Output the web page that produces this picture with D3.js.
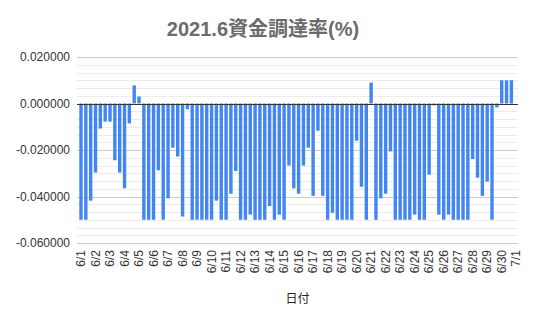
<!DOCTYPE html>
<html>
<head>
<meta charset="utf-8">
<script src="https://cdn.jsdelivr.net/npm/d3@7"></script>
<style>
  body { margin: 0; background: #fff; }
  svg { display: block; font-family: Arial, "Liberation Sans", "Noto Sans CJK JP", sans-serif; }
</style>
</head>
<body>
<div id="chart"></div>
<script>
// 資金調達率, 8時間ごと (1日3回)
const dayLabels = ["6/1","6/2","6/3","6/4","6/5","6/6","6/7","6/8","6/9","6/10",
  "6/11","6/12","6/13","6/14","6/15","6/16","6/17","6/18","6/19","6/20",
  "6/21","6/22","6/23","6/24","6/25","6/26","6/27","6/28","6/29","6/30","7/1"];

const rates = [
  -0.05, -0.05, -0.0418,   -0.0297, -0.0108, -0.0078,   -0.0078, -0.0244, -0.0297,
  -0.0365, -0.0086, 0.0078, 0.003, -0.05, -0.05,        -0.05, -0.0287, -0.05,
  -0.0408, -0.019, -0.0228, -0.0486, -0.0025, -0.05,    -0.05, -0.05, -0.05,
  -0.05, -0.0418, -0.05,   -0.05, -0.0388, -0.029,      -0.05, -0.05, -0.0478,
  -0.05, -0.05, -0.05,     -0.0441, -0.05, -0.0478,     -0.05, -0.0267, -0.0365,
  -0.0388, -0.0267, -0.019, -0.0397, -0.0117, -0.0397,  -0.05, -0.047, -0.05,
  -0.05, -0.05, -0.05,     -0.016, -0.0358, -0.05,      0.009, -0.05, -0.0408,
  -0.0388, -0.0206, -0.05, -0.05, -0.05, -0.05,         -0.0478, -0.05, -0.05,
  -0.0306, -0.0008, -0.0478, -0.05, -0.0478, -0.05,     -0.05, -0.05, -0.05,
  -0.0239, -0.0319, -0.0397, -0.0336, -0.05, -0.0017,   0.01, 0.01, 0.01
];

const yTicks = [0.02, 0, -0.02, -0.04, -0.06];

const width = 535, height = 322;
const plot = { left: 77, right: 518, top: 57, bottom: 243 };
const slotsPerDay = 3;

const svg = d3.select("#chart").append("svg")
  .attr("width", width)
  .attr("height", height);

const x = d3.scaleLinear()
  .domain([0, (dayLabels.length - 1) * slotsPerDay])
  .range([81, 516.2]);

const y = d3.scaleLinear()
  .domain([-0.06, 0.02])
  .range([plot.bottom, plot.top]);

const fmt = d3.formatLocale({ decimal: ".", thousands: ",", grouping: [3], currency: ["", ""], minus: "-" }).format(".6f");

// minor grid
const minorStep = 0.02 / 6;
const minor = d3.range(-0.06, 0.02 + 1e-9, minorStep).filter(v => Math.abs(Math.round(v / 0.02) * 0.02 - v) > 1e-6);
svg.append("g").selectAll("line")
  .data(minor)
  .enter().append("line")
  .attr("x1", plot.left).attr("x2", plot.right)
  .attr("y1", d => Math.round(y(d)) + 0.5).attr("y2", d => Math.round(y(d)) + 0.5)
  .attr("stroke", "#ebebeb");

// major grid
svg.append("g").selectAll("line")
  .data(yTicks)
  .enter().append("line")
  .attr("x1", plot.left).attr("x2", plot.right)
  .attr("y1", d => Math.round(y(d)) + 0.5).attr("y2", d => Math.round(y(d)) + 0.5)
  .attr("stroke", "#cccccc");

// y labels
svg.append("g").selectAll("text")
  .data(yTicks)
  .enter().append("text")
  .attr("x", 70)
  .attr("y", d => y(d))
  .attr("dy", "0.35em")
  .attr("text-anchor", "end")
  .attr("font-size", "12px")
  .attr("fill", "#333")
  .text(d => fmt(d));

// bars
const barW = 3.4;
svg.append("g").selectAll("rect")
  .data(rates)
  .enter().append("rect")
  .attr("x", (d, i) => x(i) - barW / 2)
  .attr("y", d => y(Math.max(0, d)))
  .attr("width", barW)
  .attr("height", d => Math.abs(y(d) - y(0)))
  .attr("fill", "#4285f4");

// zero line
svg.append("line")
  .attr("x1", plot.left).attr("x2", plot.right)
  .attr("y1", Math.round(y(0)) + 0.5).attr("y2", Math.round(y(0)) + 0.5)
  .attr("stroke", "#333");

// x labels
svg.append("g").selectAll("text")
  .data(dayLabels)
  .enter().append("text")
  .attr("transform", (d, i) => `translate(${x(i * slotsPerDay)},250) rotate(-90)`)
  .attr("dy", "0.35em")
  .attr("text-anchor", "end")
  .attr("font-size", "12px")
  .attr("fill", "#333")
  .text(d => d);

// title
svg.append("text")
  .attr("x", 263)
  .attr("y", 36)
  .attr("text-anchor", "middle")
  .attr("font-size", "20px")
  .attr("font-weight", "bold")
  .attr("fill", "#6b6b6b")
  .text("2021.6資金調達率(%)");

// x axis title
svg.append("text")
  .attr("x", (plot.left + plot.right) / 2)
  .attr("y", 303)
  .attr("text-anchor", "middle")
  .attr("font-size", "12px")
  .attr("fill", "#222")
  .text("日付");
</script>
</body>
</html>
